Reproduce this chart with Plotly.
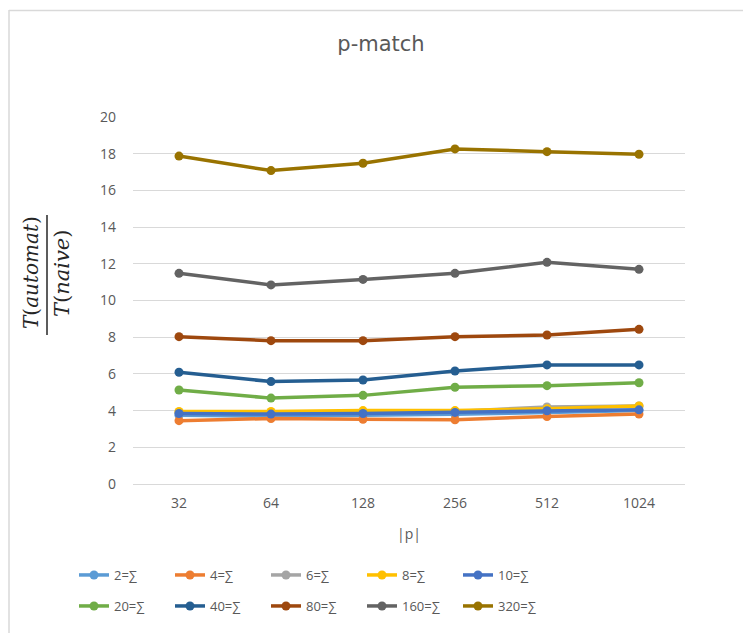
import plotly.graph_objects as go

categories = ["32", "64", "128", "256", "512", "1024"]
series_names = ["2=∑", "4=∑", "6=∑", "8=∑", "10=∑", "20=∑", "40=∑", "80=∑", "160=∑", "320=∑"]

s2 = [3.75, 3.70, 3.75, 3.80, 3.90, 4.00]
s4 = [3.45, 3.57, 3.53, 3.50, 3.68, 3.81]
s6 = [3.90, 3.85, 3.90, 3.95, 4.20, 4.25]
s8 = [3.95, 3.95, 4.00, 4.00, 4.10, 4.25]
s10 = [3.84, 3.81, 3.84, 3.90, 3.99, 4.04]
s20 = [5.12, 4.68, 4.83, 5.27, 5.36, 5.52]
s40 = [6.09, 5.58, 5.67, 6.16, 6.49, 6.49]
s80 = [8.03, 7.81, 7.81, 8.03, 8.12, 8.43]
s160 = [11.48, 10.85, 11.15, 11.48, 12.08, 11.70]
s320 = [17.87, 17.08, 17.48, 18.26, 18.11, 17.97]

series_values = [s2, s4, s6, s8, s10, s20, s40, s80, s160, s320]
colors = ["#5B9BD5", "#ED7D31", "#A5A5A5", "#FFC000", "#4472C4",
          "#70AD47", "#255E91", "#9E480E", "#636363", "#997300"]

# page body has an 8px margin: figure origin is at (8, 8) on screen
OFF = 8
W, H = 751 - OFF, 633 - OFF
L, T = 133 - OFF, 117 - OFF
R, B = 751 - 685, 633 - 484
PW, PH = W - L - R, H - T - B

def px_x(sx):
    return (sx - OFF - L) / PW

def px_y(sy):
    return (H - B - (sy - OFF)) / PH

fig = go.Figure()
for i, (name, vals, c) in enumerate(zip(series_names, series_values, colors)):
    fig.add_trace(go.Scatter(
        x=categories, y=vals, name=name, mode="lines+markers",
        line=dict(color=c, width=3.5),
        marker=dict(color=c, size=9),
        legend="legend" if i < 5 else "legend2",
    ))

font_family = "'Open Sans', 'Liberation Sans', Arial, sans-serif"
gray = "#595959"

legend_common = dict(
    orientation="h", xanchor="left", yanchor="middle",
    entrywidth=51, entrywidthmode="pixels",
    font=dict(family=font_family, size=13, color=gray),
    bgcolor="rgba(0,0,0,0)", traceorder="normal",
)

fig.update_layout(
    width=W, height=H,
    margin=dict(l=L, r=R, t=T, b=B, autoexpand=False),
    paper_bgcolor="white", plot_bgcolor="white",
    title=dict(text="p-match", x=(381 - OFF) / W, xanchor="center",
               y=1 - (44 - OFF) / H, yanchor="middle",
               font=dict(family="'DejaVu Sans', 'Open Sans', sans-serif", size=21, color=gray)),
    xaxis=dict(
        type="category", range=[-0.5, len(categories) - 0.5],
        showgrid=False, showline=True, linecolor="#D9D9D9", linewidth=1,
        ticks="", tickfont=dict(family=font_family, size=14, color=gray),
        ticklabelstandoff=6,
        title=dict(text="|p|", font=dict(family=font_family, size=14, color=gray), standoff=18),
        zeroline=False, automargin=False,
    ),
    yaxis=dict(
        range=[0, 20], dtick=2, showgrid=True, gridcolor="#D9D9D9", gridwidth=1,
        zeroline=False, showline=False, ticks="",
        tickfont=dict(family=font_family, size=14, color=gray),
        ticklabelstandoff=16, automargin=False,
    ),
    legend=dict(x=px_x(74), y=px_y(575), **legend_common),
    legend2=dict(x=px_x(74), y=px_y(606), **legend_common),
    showlegend=True,
)

# y-axis title as a fraction
serif = "'DejaVu Serif', 'Liberation Serif', serif"
fig.add_annotation(text="<i>T</i>(<i>automat</i>)", xref="paper", yref="paper",
                   x=px_x(31), y=px_y(273), textangle=-90, showarrow=False,
                   xanchor="center", yanchor="middle",
                   font=dict(family=serif, size=20, color="#262626"))
fig.add_annotation(text="<i>T</i>(<i>naive</i>)", xref="paper", yref="paper",
                   x=px_x(62), y=px_y(274), textangle=-90, showarrow=False,
                   xanchor="center", yanchor="middle",
                   font=dict(family=serif, size=21, color="#262626"))
fig.add_shape(type="line", xref="paper", yref="paper",
              x0=px_x(47), x1=px_x(47), y0=px_y(215), y1=px_y(335),
              line=dict(color="#262626", width=1.5))

# chart border (top and left visible)
fig.add_shape(type="line", xref="paper", yref="paper",
              x0=px_x(9), x1=px_x(9), y0=px_y(10), y1=px_y(640),
              line=dict(color="#D9D9D9", width=1.5))
fig.add_shape(type="line", xref="paper", yref="paper",
              x0=px_x(9), x1=px_x(760), y0=px_y(10.5), y1=px_y(10.5),
              line=dict(color="#D9D9D9", width=1.5))

fig.write_html("out.html")
